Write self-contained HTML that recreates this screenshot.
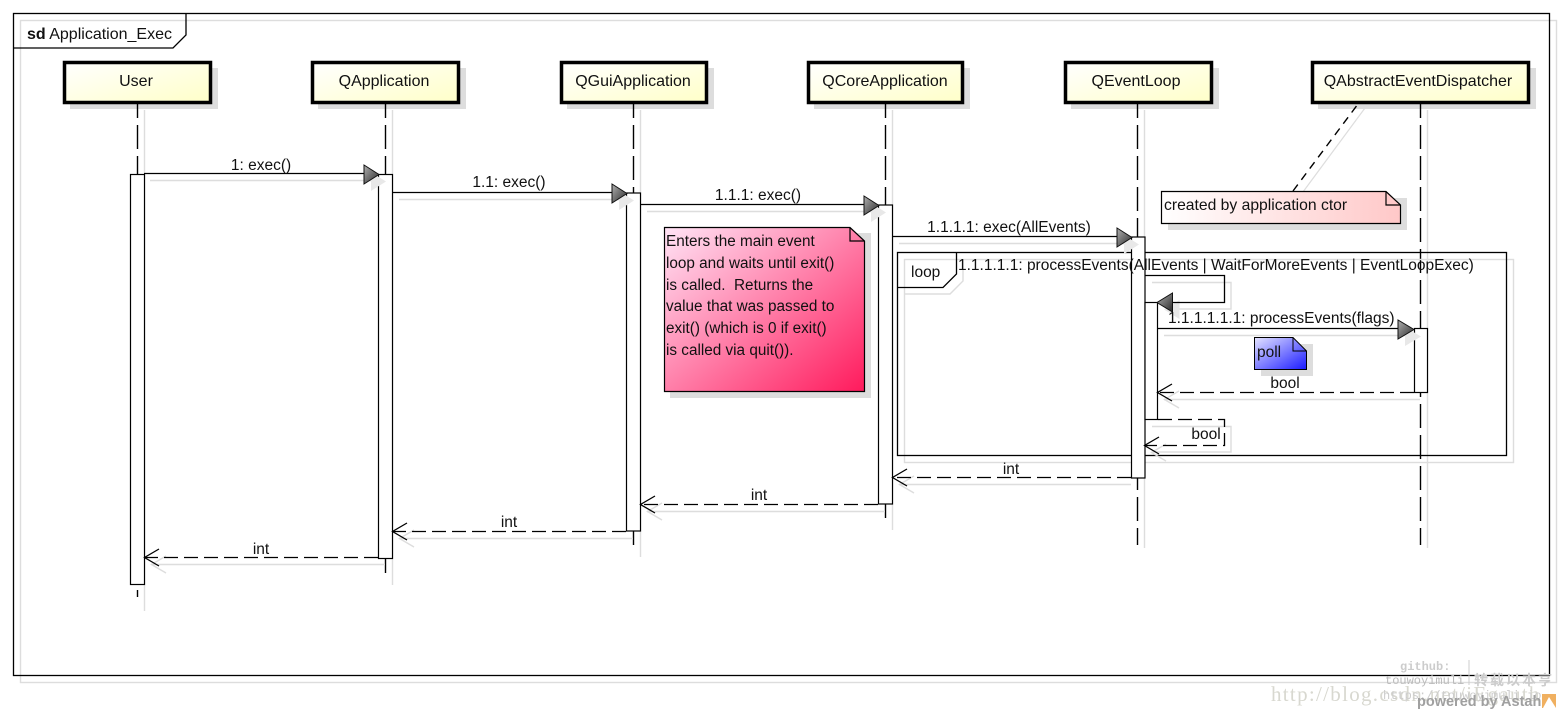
<!DOCTYPE html>
<html><head><meta charset="utf-8">
<style>
html,body{margin:0;padding:0;background:#fff;width:1562px;height:714px;overflow:hidden}
svg{display:block}
text{font-family:"Liberation Sans",sans-serif;font-size:15.5px;fill:#111;white-space:pre}
.hd{font-size:16px}
.n{font-size:15.3px}
.s{stroke:#ddd;fill:none;stroke-width:1.4}
.l{stroke:#000;fill:none;stroke-width:1.3}
.d{stroke:#000;fill:none;stroke-width:1.3;stroke-dasharray:14 6}
.ll{stroke:#000;fill:none;stroke-width:1.4;stroke-dasharray:24 7;stroke-dashoffset:10}
.h{fill:url(#yl);stroke:#000;stroke-width:3.5}
.sh{fill:#ddd}
.a{fill:#fff;stroke:#000;stroke-width:1.2}
.ar{fill:url(#ag);stroke:#111;stroke-width:1}
.sa{fill:#e8e8e8}
.m{text-anchor:middle}
</style></head><body>
<svg width="1562" height="714" viewBox="0 0 1562 714" xmlns="http://www.w3.org/2000/svg">
<defs>
<linearGradient id="yl" x1="0" y1="0" x2="1" y2="1"><stop offset="0" stop-color="#fff"/><stop offset="1" stop-color="#ffffc8"/></linearGradient>
<linearGradient id="ag" x1="0" y1="0" x2="1" y2="1"><stop offset="0" stop-color="#b0b0b0"/><stop offset="1" stop-color="#2a2a2a"/></linearGradient>
<linearGradient id="pk" x1="0" y1="0" x2="1" y2="1"><stop offset="0" stop-color="#ffe4f6"/><stop offset="1" stop-color="#ff1a5c"/></linearGradient>
<linearGradient id="rd" x1="0" y1="0" x2="1" y2="0"><stop offset="0" stop-color="#fff"/><stop offset="1" stop-color="#ffc8c8"/></linearGradient>
<linearGradient id="bl" x1="0" y1="0" x2="1" y2="1"><stop offset="0" stop-color="#e4e4ff"/><stop offset="1" stop-color="#1a1aff"/></linearGradient>
</defs>

<!-- frame -->
<rect x="20.500" y="20.500" width="1536" height="662" class="s"/>
<rect x="13.500" y="13.500" width="1536" height="662" fill="none" stroke="#000" stroke-width="1.3"/>
<path d="M13 48H173L186 35V13" class="l"/>
<text x="27" y="39" class="hd"><tspan font-weight="bold">sd</tspan> Application_Exec</text>

<!-- lifeline shadows -->
<path class="s" d="M144.500 110V611M392.500 110V585M640.500 110V557M892.500 110V530M1144.500 110V548M1427.500 110V548"/>

<!-- heads -->
<g>
<rect class="sh" x="70" y="68" width="148" height="41"/>
<rect class="sh" x="318" y="68" width="148" height="41"/>
<rect class="sh" x="567" y="68" width="147" height="41"/>
<rect class="sh" x="814" y="68" width="156" height="41"/>
<rect class="sh" x="1071" y="68" width="148" height="41"/>
<rect class="sh" x="1318" y="68" width="218" height="41"/>
<rect class="h" x="64.500" y="62.500" width="146" height="40"/>
<rect class="h" x="312.500" y="62.500" width="146" height="40"/>
<rect class="h" x="561.500" y="62.500" width="145" height="40"/>
<rect class="h" x="808.500" y="62.500" width="154" height="40"/>
<rect class="h" x="1065.500" y="62.500" width="146" height="40"/>
<rect class="h" x="1312.500" y="62.500" width="216" height="40"/>
</g>
<text class="m hd" x="136" y="86">User</text>
<text class="m hd" x="384" y="86">QApplication</text>
<text class="m hd" x="633" y="86">QGuiApplication</text>
<text class="m hd" x="885" y="86">QCoreApplication</text>
<text class="m hd" x="1136" y="86">QEventLoop</text>
<text class="m hd" x="1418" y="86">QAbstractEventDispatcher</text>

<!-- lifelines -->
<path class="ll" d="M137.500 104V597M385.500 104V573M633.500 104V545M885.500 104V518M1137.500 104V545M1420.500 104V545"/>

<!-- note link -->
<path d="M1300 196L1365 108" stroke="#ddd" stroke-width="1.2" fill="none"/>
<path d="M1293 191L1358 104" stroke="#000" stroke-width="1.4" stroke-dasharray="8 6" fill="none"/>

<!-- created note -->
<rect class="sh" x="1168" y="198" width="239" height="32"/>
<path d="M1161.500 191.500H1386L1400.500 205V223.500H1161.500Z" fill="url(#rd)" stroke="#000" stroke-width="1.2"/>
<path d="M1386 191.500V205H1400.500" fill="none" stroke="#000" stroke-width="1.2"/>
<text x="1164" y="210" style="font-size:15.700px">created by application ctor</text>

<!-- pink note -->
<rect class="sh" x="670" y="233" width="201" height="165"/>
<path d="M664.500 227.500H850L864.500 241V391.500H664.500Z" fill="url(#pk)" stroke="#000" stroke-width="1.2"/>
<path d="M850 227.500V241H864.500" fill="none" stroke="#000" stroke-width="1.2"/>
<text class="n" x="666" y="246">Enters the main event</text>
<text class="n" x="666" y="268">loop and waits until exit()</text>
<text class="n" x="666" y="290">is called.  Returns the</text>
<text class="n" x="666" y="311">value that was passed to</text>
<text class="n" x="666" y="333">exit() (which is 0 if exit()</text>
<text class="n" x="666" y="355">is called via quit()).</text>

<!-- loop frame -->
<rect x="904.500" y="259.500" width="609" height="203" class="s"/>
<rect x="897.500" y="252.500" width="609" height="203" fill="none" stroke="#000" stroke-width="1.3"/>
<path d="M904 294H950L963 281V259" class="s"/>
<path d="M897.500 287.500H943L956.500 274V252.500" class="l"/>
<text x="911" y="277">loop</text>

<!-- activations -->
<rect class="a" x="130.500" y="174.500" width="14" height="410"/>
<rect class="a" x="378.500" y="174.500" width="14" height="384"/>
<rect class="a" x="626.500" y="193" width="14" height="338"/>
<rect class="a" x="878.500" y="205" width="14" height="299"/>
<rect class="a" x="1131.500" y="237" width="13.500" height="241"/>
<rect class="a" x="1145" y="302.500" width="12.500" height="117"/>
<rect class="a" x="1414.500" y="328.500" width="13" height="64"/>

<text x="958" y="270">1.1.1.1.1: processEvents(AllEvents | WaitForMoreEvents | EventLoopExec)</text>

<!-- message shadows -->
<path class="s" d="M150 180.500H372M399 199.500H620M647 211.500H872M899 243.500H1125M1164 335.500H1406M1152 282.500H1231V309H1172M1164 399.500H1420M1152 426.500H1231V452H1152M899 484.500H1131M647 511.500H885M399 538.500H633M151 564.500H385"/>
<path class="sa" d="M371 172V191L386 181.500ZM619 191V210L634 200.500ZM871 203V222L886 212.500ZM1124 235V254L1139 244.500ZM1405 327V346L1421 336.500Z"/>
<path class="s" d="M1179 391L1164.500 399.500L1179 408M1166 444L1151.500 452.500L1166 461M914 476L899.500 484.500L914 493M662 503L647.500 511.500L662 520M414 530L399.500 538.500L414 547M166 556L151.500 564.500L166 573"/>
<path class="sa" d="M1179.500 300V319L1164 309.500Z"/>

<!-- sync messages -->
<path class="l" d="M144 173.500H365M392 192.500H613M640 204.500H865M892 236.500H1118M1158 328.500H1399"/>
<path class="l" d="M1145 275.500H1224.500V302.500H1170"/>
<path class="ar" d="M364 165V184L379 174.500Z"/>
<path class="ar" d="M612 184V203L627 193.500Z"/>
<path class="ar" d="M864 196V215L879 205.500Z"/>
<path class="ar" d="M1117 228V247L1132 237.500Z"/>
<path class="ar" d="M1398 320V339L1414 329.500Z"/>
<path class="ar" d="M1172.500 293V312L1157 302.500Z"/>
<text class="m" x="261" y="170">1: exec()</text>
<text class="m" x="509" y="187">1.1: exec()</text>
<text class="m" x="758" y="200">1.1.1: exec()</text>
<text class="m" x="1009" y="232">1.1.1.1: exec(AllEvents)</text>
<text x="1168" y="323">1.1.1.1.1.1: processEvents(flags)</text>

<!-- poll note -->
<rect class="sh" x="1261" y="344" width="52" height="32"/>
<path d="M1254.500 337.500H1293L1306.500 351V369.500H1254.500Z" fill="url(#bl)" stroke="#000" stroke-width="1"/>
<path d="M1293 337.500V351H1306.500" fill="none" stroke="#000" stroke-width="1"/>
<text x="1257" y="357">poll</text>

<!-- returns -->
<path class="d" d="M1414 392.500H1158"/>
<path class="l" d="M1172 384L1157.500 392.500L1172 401"/>
<text class="m" x="1285" y="388">bool</text>
<path class="d" d="M1158 419.500H1224.500V445.500H1145"/>
<path class="l" d="M1159 437L1144.500 445.500L1159 454"/>
<text class="m" x="1206" y="439">bool</text>
<path class="d" d="M1131 477.500H893"/>
<path class="l" d="M907 469L892.500 477.500L907 486"/>
<text class="m" x="1011" y="474">int</text>
<path class="d" d="M878 504.500H641"/>
<path class="l" d="M655 496L640.500 504.500L655 513"/>
<text class="m" x="759" y="500">int</text>
<path class="d" d="M626 531.500H393"/>
<path class="l" d="M407 523L392.500 531.500L407 540"/>
<text class="m" x="509" y="527">int</text>
<path class="d" d="M378 557.500H145"/>
<path class="l" d="M159 549L144.500 557.500L159 566"/>
<text class="m" x="261" y="554">int</text>

<!-- watermark -->
<text x="1400" y="670" style="font-family:'Liberation Mono',monospace;font-size:12px;font-weight:bold;fill:#ccc">github:</text>
<text x="1385" y="684" style="font-family:'Liberation Mono',monospace;font-size:12px;fill:#bbb">touwoyimuli</text>
<path d="M1469 660V685" stroke="#ccc" stroke-width="1"/>
<text x="1474" y="685" style="font-family:'Noto Sans CJK SC',sans-serif;font-size:14px;font-weight:bold;letter-spacing:2px;fill:#ccc">转载以本亨</text>
<text x="1271" y="701" style="font-family:'Liberation Serif',serif;font-size:21px;letter-spacing:1.300px;fill:#d8d8d0">http://blog.csdn.net/iEgauth</text>
<text x="1383" y="699" style="font-family:'Liberation Mono',monospace;font-size:12px;fill:#ccc">https://touwoyimuli.io</text>
<text x="1417" y="706" style="font-size:14.500px;font-weight:bold;fill:#a0a0a0">powered by Astah</text>
<rect x="1542" y="694" width="14" height="14" fill="#f0b060"/>
<path d="M1543 708L1549 697L1556 708Z" fill="#fff"/>
</svg>
</body></html>
